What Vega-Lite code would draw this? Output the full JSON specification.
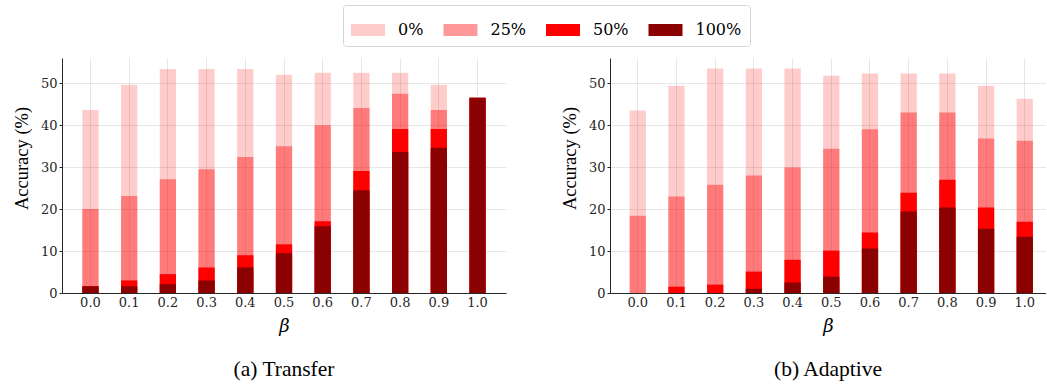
{
  "$schema": "https://vega.github.io/schema/vega-lite/v6.json",
  "padding": {"left": 12, "top": 4, "right": 0, "bottom": 4},
  "bounds": "flush",
  "spacing": 104,
  "config": {
    "font": "'DejaVu Serif', serif",
    "view": {"stroke": null},
    "axis": {
      "labelFont": "'DejaVu Serif', serif",
      "labelFontSize": 13,
      "labelColor": "#262626",
      "titleFontWeight": "normal",
      "titleColor": "#000000",
      "domainColor": "#262626",
      "tickColor": "#262626",
      "gridColor": "#b0b0b0",
      "gridOpacity": 0.3,
      "zindex": 1
    }
  },
  "data": {"values": [
    {"panel": "T", "beta": "0.0", "level": "0%", "acc": 43.6},
    {"panel": "T", "beta": "0.1", "level": "0%", "acc": 49.6},
    {"panel": "T", "beta": "0.2", "level": "0%", "acc": 53.4},
    {"panel": "T", "beta": "0.3", "level": "0%", "acc": 53.4},
    {"panel": "T", "beta": "0.4", "level": "0%", "acc": 53.4},
    {"panel": "T", "beta": "0.5", "level": "0%", "acc": 52.0},
    {"panel": "T", "beta": "0.6", "level": "0%", "acc": 52.5},
    {"panel": "T", "beta": "0.7", "level": "0%", "acc": 52.5},
    {"panel": "T", "beta": "0.8", "level": "0%", "acc": 52.5},
    {"panel": "T", "beta": "0.9", "level": "0%", "acc": 49.6},
    {"panel": "T", "beta": "1.0", "level": "0%", "acc": 46.5},
    {"panel": "T", "beta": "0.0", "level": "25%", "acc": 20.0},
    {"panel": "T", "beta": "0.1", "level": "25%", "acc": 23.1},
    {"panel": "T", "beta": "0.2", "level": "25%", "acc": 27.1},
    {"panel": "T", "beta": "0.3", "level": "25%", "acc": 29.5},
    {"panel": "T", "beta": "0.4", "level": "25%", "acc": 32.4},
    {"panel": "T", "beta": "0.5", "level": "25%", "acc": 35.0},
    {"panel": "T", "beta": "0.6", "level": "25%", "acc": 40.0},
    {"panel": "T", "beta": "0.7", "level": "25%", "acc": 44.1},
    {"panel": "T", "beta": "0.8", "level": "25%", "acc": 47.5},
    {"panel": "T", "beta": "0.9", "level": "25%", "acc": 43.6},
    {"panel": "T", "beta": "1.0", "level": "25%", "acc": 46.5},
    {"panel": "T", "beta": "0.0", "level": "50%", "acc": 1.6},
    {"panel": "T", "beta": "0.1", "level": "50%", "acc": 3.0},
    {"panel": "T", "beta": "0.2", "level": "50%", "acc": 4.5},
    {"panel": "T", "beta": "0.3", "level": "50%", "acc": 6.1},
    {"panel": "T", "beta": "0.4", "level": "50%", "acc": 9.0},
    {"panel": "T", "beta": "0.5", "level": "50%", "acc": 11.6},
    {"panel": "T", "beta": "0.6", "level": "50%", "acc": 17.1},
    {"panel": "T", "beta": "0.7", "level": "50%", "acc": 29.1},
    {"panel": "T", "beta": "0.8", "level": "50%", "acc": 39.1},
    {"panel": "T", "beta": "0.9", "level": "50%", "acc": 39.1},
    {"panel": "T", "beta": "1.0", "level": "50%", "acc": 46.5},
    {"panel": "T", "beta": "0.0", "level": "100%", "acc": 1.6},
    {"panel": "T", "beta": "0.1", "level": "100%", "acc": 1.6},
    {"panel": "T", "beta": "0.2", "level": "100%", "acc": 2.1},
    {"panel": "T", "beta": "0.3", "level": "100%", "acc": 3.0},
    {"panel": "T", "beta": "0.4", "level": "100%", "acc": 6.1},
    {"panel": "T", "beta": "0.5", "level": "100%", "acc": 9.5},
    {"panel": "T", "beta": "0.6", "level": "100%", "acc": 15.9},
    {"panel": "T", "beta": "0.7", "level": "100%", "acc": 24.5},
    {"panel": "T", "beta": "0.8", "level": "100%", "acc": 33.6},
    {"panel": "T", "beta": "0.9", "level": "100%", "acc": 34.6},
    {"panel": "T", "beta": "1.0", "level": "100%", "acc": 46.5},
    {"panel": "A", "beta": "0.0", "level": "0%", "acc": 43.5},
    {"panel": "A", "beta": "0.1", "level": "0%", "acc": 49.4},
    {"panel": "A", "beta": "0.2", "level": "0%", "acc": 53.5},
    {"panel": "A", "beta": "0.3", "level": "0%", "acc": 53.5},
    {"panel": "A", "beta": "0.4", "level": "0%", "acc": 53.5},
    {"panel": "A", "beta": "0.5", "level": "0%", "acc": 51.8},
    {"panel": "A", "beta": "0.6", "level": "0%", "acc": 52.3},
    {"panel": "A", "beta": "0.7", "level": "0%", "acc": 52.3},
    {"panel": "A", "beta": "0.8", "level": "0%", "acc": 52.3},
    {"panel": "A", "beta": "0.9", "level": "0%", "acc": 49.4},
    {"panel": "A", "beta": "1.0", "level": "0%", "acc": 46.3},
    {"panel": "A", "beta": "0.0", "level": "25%", "acc": 18.4},
    {"panel": "A", "beta": "0.1", "level": "25%", "acc": 23.0},
    {"panel": "A", "beta": "0.2", "level": "25%", "acc": 25.8},
    {"panel": "A", "beta": "0.3", "level": "25%", "acc": 28.0},
    {"panel": "A", "beta": "0.4", "level": "25%", "acc": 29.9},
    {"panel": "A", "beta": "0.5", "level": "25%", "acc": 34.4},
    {"panel": "A", "beta": "0.6", "level": "25%", "acc": 39.0},
    {"panel": "A", "beta": "0.7", "level": "25%", "acc": 43.0},
    {"panel": "A", "beta": "0.8", "level": "25%", "acc": 43.0},
    {"panel": "A", "beta": "0.9", "level": "25%", "acc": 36.8},
    {"panel": "A", "beta": "1.0", "level": "25%", "acc": 36.3},
    {"panel": "A", "beta": "0.0", "level": "50%", "acc": 0},
    {"panel": "A", "beta": "0.1", "level": "50%", "acc": 1.5},
    {"panel": "A", "beta": "0.2", "level": "50%", "acc": 2.0},
    {"panel": "A", "beta": "0.3", "level": "50%", "acc": 5.1},
    {"panel": "A", "beta": "0.4", "level": "50%", "acc": 7.9},
    {"panel": "A", "beta": "0.5", "level": "50%", "acc": 10.1},
    {"panel": "A", "beta": "0.6", "level": "50%", "acc": 14.4},
    {"panel": "A", "beta": "0.7", "level": "50%", "acc": 23.9},
    {"panel": "A", "beta": "0.8", "level": "50%", "acc": 27.0},
    {"panel": "A", "beta": "0.9", "level": "50%", "acc": 20.4},
    {"panel": "A", "beta": "1.0", "level": "50%", "acc": 17.0},
    {"panel": "A", "beta": "0.0", "level": "100%", "acc": 0},
    {"panel": "A", "beta": "0.1", "level": "100%", "acc": 0},
    {"panel": "A", "beta": "0.2", "level": "100%", "acc": 0},
    {"panel": "A", "beta": "0.3", "level": "100%", "acc": 1.0},
    {"panel": "A", "beta": "0.4", "level": "100%", "acc": 2.5},
    {"panel": "A", "beta": "0.5", "level": "100%", "acc": 3.9},
    {"panel": "A", "beta": "0.6", "level": "100%", "acc": 10.6},
    {"panel": "A", "beta": "0.7", "level": "100%", "acc": 19.4},
    {"panel": "A", "beta": "0.8", "level": "100%", "acc": 20.4},
    {"panel": "A", "beta": "0.9", "level": "100%", "acc": 15.3},
    {"panel": "A", "beta": "1.0", "level": "100%", "acc": 13.4}
  ]},
  "hconcat": [
    {
      "width": 444,
      "height": 235,
      "transform": [{"filter": "datum.panel == 'T'"}],
      "title": {"text": "(a) Transfer", "orient": "bottom", "font": "'Liberation Serif', serif", "fontSize": 21.5, "fontWeight": "normal", "color": "#000000", "offset": 24},
      "mark": {"type": "bar", "opacity": 1},
      "encoding": {
        "x": {"field": "beta", "type": "ordinal", "scale": {"paddingInner": 0.58, "paddingOuter": 0.525},
          "axis": {"title": "β", "titleFont": "'DejaVu Serif', serif", "titleFontStyle": "italic", "titleFontSize": 18, "titlePadding": 8, "labelAngle": 0, "grid": true, "bandPosition": 0.5, "ticks": false, "labelPadding": 3}},
        "y": {"field": "acc", "type": "quantitative", "stack": null, "scale": {"domain": [0, 56], "nice": false},
          "axis": {"title": "Accuracy (%)", "titleFont": "'Liberation Serif', serif", "titleFontSize": 18.5, "titleY": 100, "values": [0, 10, 20, 30, 40, 50], "tickSize": 3, "labelPadding": 2, "titlePadding": 9, "grid": true}},
        "color": {"field": "level", "type": "nominal",
          "scale": {"domain": ["0%", "25%", "50%", "100%"], "range": ["rgba(255,0,0,0.2)", "rgba(255,0,0,0.4)", "#ff0000", "#8b0000"]},
          "legend": {"title": null, "orient": "none", "legendX": 281, "legendY": -53, "direction": "horizontal", "columns": 4,
            "symbolType": "M-1,-0.35H1V0.35H-1Z", "symbolSize": 1156, "symbolStrokeWidth": 0, "symbolOpacity": 1, "labelOffset": 13, "columnPadding": 19.5,
            "padding": 8, "strokeColor": "#d6d6d6", "cornerRadius": 3, "fillColor": "#ffffff",
            "labelFont": "'DejaVu Serif', serif", "labelFontSize": 16, "labelColor": "#000000"}}
      }
    },
    {
      "width": 436,
      "height": 235,
      "transform": [{"filter": "datum.panel == 'A'"}],
      "title": {"text": "(b) Adaptive", "orient": "bottom", "font": "'Liberation Serif', serif", "fontSize": 21.5, "fontWeight": "normal", "color": "#000000", "offset": 24},
      "mark": {"type": "bar", "opacity": 1},
      "encoding": {
        "x": {"field": "beta", "type": "ordinal", "scale": {"paddingInner": 0.58, "paddingOuter": 0.423, "align": 0.6},
          "axis": {"title": "β", "titleFont": "'DejaVu Serif', serif", "titleFontStyle": "italic", "titleFontSize": 18, "titlePadding": 8, "labelAngle": 0, "grid": true, "bandPosition": 0.5, "ticks": false, "labelPadding": 3}},
        "y": {"field": "acc", "type": "quantitative", "stack": null, "scale": {"domain": [0, 56], "nice": false},
          "axis": {"title": "Accuracy (%)", "titleFont": "'Liberation Serif', serif", "titleFontSize": 18.5, "titleY": 100, "values": [0, 10, 20, 30, 40, 50], "tickSize": 3, "labelPadding": 2, "titlePadding": 9, "grid": true}},
        "color": {"field": "level", "type": "nominal",
          "scale": {"domain": ["0%", "25%", "50%", "100%"], "range": ["rgba(255,0,0,0.2)", "rgba(255,0,0,0.4)", "#ff0000", "#8b0000"]},
          "legend": {"title": null, "orient": "none", "legendX": 281, "legendY": -53, "direction": "horizontal", "columns": 4,
            "symbolType": "M-1,-0.35H1V0.35H-1Z", "symbolSize": 1156, "symbolStrokeWidth": 0, "symbolOpacity": 1, "labelOffset": 13, "columnPadding": 19.5,
            "padding": 8, "strokeColor": "#d6d6d6", "cornerRadius": 3, "fillColor": "#ffffff",
            "labelFont": "'DejaVu Serif', serif", "labelFontSize": 16, "labelColor": "#000000"}}
      }
    }
  ]
}
